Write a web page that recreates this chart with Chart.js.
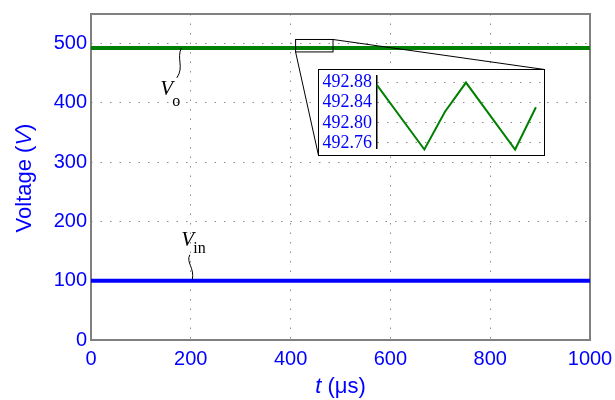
<!DOCTYPE html>
<html>
<head>
<meta charset="utf-8">
<script src="https://cdn.jsdelivr.net/npm/chart.js@4.4.1/dist/chart.umd.min.js"></script>
<style>
  html, body { margin: 0; padding: 0; background: #fff; }
  #wrap { position: relative; width: 615px; height: 400px; }
  #main { display: block; }
  #inset { position: absolute; left: 318px; top: 69px; width: 227px; height: 87px;
           box-sizing: border-box; border: 1px solid #000; background: #fff; }
  #zoom { display: block; }
</style>
</head>
<body>
<div id="wrap">
  <canvas id="main" width="615" height="400"></canvas>
  <div id="inset"><canvas id="zoom" width="225" height="85"></canvas></div>
</div>
<script>
// main plot
const timeUs = [0, 1000];
const vOut = [492.82, 492.82];
const vIn = [100, 100];
const xTicks = [0, 200, 400, 600, 800, 1000];
const yTicks = [0, 100, 200, 300, 400, 500];

// zoomed window around t = 410..485 us
const zoomTime = [410, 431.4, 440.7, 450.2, 472.4, 481.8];
const zoomVout = [492.875, 492.747, 492.822, 492.880, 492.747, 492.831];
const zoomTicks = [492.76, 492.80, 492.84, 492.88];
const zoomWin = { t0: 410, t1: 485, v0: 486, v1: 507 };

const blue = '#0000ff';
const green = '#008000';
const sans = '"Liberation Sans", Arial, sans-serif';
const serif = '"Liberation Serif", "Times New Roman", serif';

function pts(xs, ys) { return xs.map((x, i) => ({ x: x, y: ys[i] })); }

// text in pieces so parts can be italic
function drawPieces(ctx, pieces, cx, y) {
  let total = 0;
  pieces.forEach(p => { ctx.font = p[1]; total += ctx.measureText(p[0]).width; });
  let x = cx - total / 2;
  pieces.forEach(p => {
    ctx.font = p[1];
    ctx.fillText(p[0], x, y);
    x += ctx.measureText(p[0]).width;
  });
}

// keep label overflow from shrinking the plot area
function noPad(s) { s.paddingTop = 0; s.paddingBottom = 0; s.paddingLeft = 0; s.paddingRight = 0; }

const framePlugin = {
  id: 'frame',
  beforeDatasetsDraw(chart) {
    const ctx = chart.ctx, a = chart.chartArea;
    ctx.save();
    ctx.strokeStyle = '#808080';
    ctx.lineWidth = 2;
    ctx.strokeRect(a.left, a.top, a.right - a.left, a.bottom - a.top);
    ctx.restore();
  },
  afterDatasetsDraw(chart) {
    const ctx = chart.ctx, xs = chart.scales.x, ys = chart.scales.y;
    ctx.save();
    ctx.strokeStyle = '#000';
    ctx.lineWidth = 1;
    // zoom box
    const x0 = xs.getPixelForValue(zoomWin.t0), x1 = xs.getPixelForValue(zoomWin.t1);
    const y0 = ys.getPixelForValue(zoomWin.v0), y1 = ys.getPixelForValue(zoomWin.v1);
    ctx.strokeRect(x0, y1, x1 - x0, y0 - y1);
    // connectors to the inset box
    const box = document.getElementById('inset');
    const bl = box.offsetLeft, bt = box.offsetTop, bw = box.offsetWidth, bh = box.offsetHeight;
    ctx.beginPath();
    ctx.moveTo(x0, y0); ctx.lineTo(bl + 0.5, bt + bh - 0.5);
    ctx.moveTo(x1, y1); ctx.lineTo(bl + bw - 0.5, bt + 0.5);
    ctx.stroke();

    // V_o label
    let ax = xs.getPixelForValue(181), ay = ys.getPixelForValue(vOut[0]);
    ctx.beginPath();
    ctx.moveTo(ax, ay);
    ctx.bezierCurveTo(ax - 5, ay + 11, ax + 3, ay + 19, ax - 4.5, ay + 30);
    ctx.stroke();
    ctx.fillStyle = '#000';
    ctx.textBaseline = 'alphabetic';
    ctx.textAlign = 'left';
    ctx.font = 'italic 21px ' + serif;
    ctx.fillText('V', ax - 21, ay + 47);
    ctx.font = '16px ' + serif;
    ctx.fillText('o', ax - 9, ay + 58);

    // V_in label
    ax = xs.getPixelForValue(203); ay = ys.getPixelForValue(vIn[0]);
    ctx.beginPath();
    ctx.moveTo(ax - 2.5, ay - 26);
    ctx.bezierCurveTo(ax - 6.5, ay - 18, ax + 2.5, ay - 13, ax, ay - 1);
    ctx.stroke();
    ctx.font = 'italic 21px ' + serif;
    ctx.fillText('V', ax - 11, ay - 34.5);
    ctx.font = '16px ' + serif;
    ctx.fillText('in', ax + 1, ay - 28);
    ctx.restore();
  },
  afterDraw(chart) {
    const ctx = chart.ctx, a = chart.chartArea;
    ctx.save();
    ctx.fillStyle = blue;
    ctx.textBaseline = 'alphabetic';
    ctx.textAlign = 'left';
    drawPieces(ctx, [['t', 'italic 22px ' + sans], [' (\u03bcs)', '22px ' + sans]],
      (a.left + a.right) / 2, 393);
    ctx.translate(31, (a.top + a.bottom) / 2 + 1);
    ctx.rotate(-Math.PI / 2);
    drawPieces(ctx, [['Voltage (', '22px ' + sans], ['V', 'italic 22px ' + sans], [')', '22px ' + sans]], 0, 0);
    ctx.restore();
  }
};

new Chart(document.getElementById('main'), {
  type: 'line',
  data: {
    datasets: [
      { data: pts(timeUs, vOut), borderColor: green, borderWidth: 4, pointRadius: 0 },
      { data: pts(timeUs, vIn), borderColor: blue, borderWidth: 4, pointRadius: 0 }
    ]
  },
  options: {
    responsive: false,
    animation: false,
    events: [],
    layout: { padding: { left: 0, top: 14, right: 25, bottom: 0 } },
    plugins: { legend: { display: false }, tooltip: { enabled: false } },
    scales: {
      x: {
        type: 'linear', min: 0, max: 1000,
        afterBuildTicks: s => { s.ticks = xTicks.map(v => ({ value: v })); },
        afterFit: s => { s.height = 60; noPad(s); },
        ticks: { color: blue, font: { family: sans, size: 20 }, padding: 7, maxRotation: 0, autoSkip: false,
                 callback: v => String(v) },
        grid: { color: '#8c8c8c', lineWidth: 1, drawTicks: false },
        border: { display: false, dash: [1.5, 8] }
      },
      y: {
        type: 'linear', min: 0, max: 550,
        afterBuildTicks: s => { s.ticks = yTicks.map(v => ({ value: v })); },
        afterFit: s => { s.width = 91; noPad(s); },
        ticks: { color: blue, font: { family: sans, size: 20 }, padding: 4, autoSkip: false,
                 callback: v => String(v) },
        grid: { color: '#8c8c8c', lineWidth: 1, drawTicks: false },
        border: { display: false, dash: [1.5, 8] }
      }
    }
  },
  plugins: [framePlugin]
});

new Chart(document.getElementById('zoom'), {
  type: 'line',
  data: {
    datasets: [
      { data: pts(zoomTime, zoomVout), borderColor: green, borderWidth: 2, pointRadius: 0, clip: false }
    ]
  },
  options: {
    responsive: false,
    animation: false,
    events: [],
    layout: { padding: { left: 0, top: 6, right: 1, bottom: 7 } },
    plugins: { legend: { display: false }, tooltip: { enabled: false } },
    scales: {
      x: { type: 'linear', min: zoomWin.t0, max: zoomWin.t1, display: false },
      y: {
        type: 'linear', min: 492.75, max: 492.893,
        afterBuildTicks: s => { s.ticks = zoomTicks.map(v => ({ value: v })); },
        afterFit: s => { s.width = 58; noPad(s); },
        ticks: { color: blue, font: { family: serif, size: 18 }, padding: 5, autoSkip: false,
                 callback: v => v.toFixed(2) },
        grid: { color: '#8c8c8c', lineWidth: 1, drawTicks: false },
        border: { display: true, color: '#000', width: 1.5, dash: [1.5, 8] }
      }
    }
  }
});
</script>
</body>
</html>
